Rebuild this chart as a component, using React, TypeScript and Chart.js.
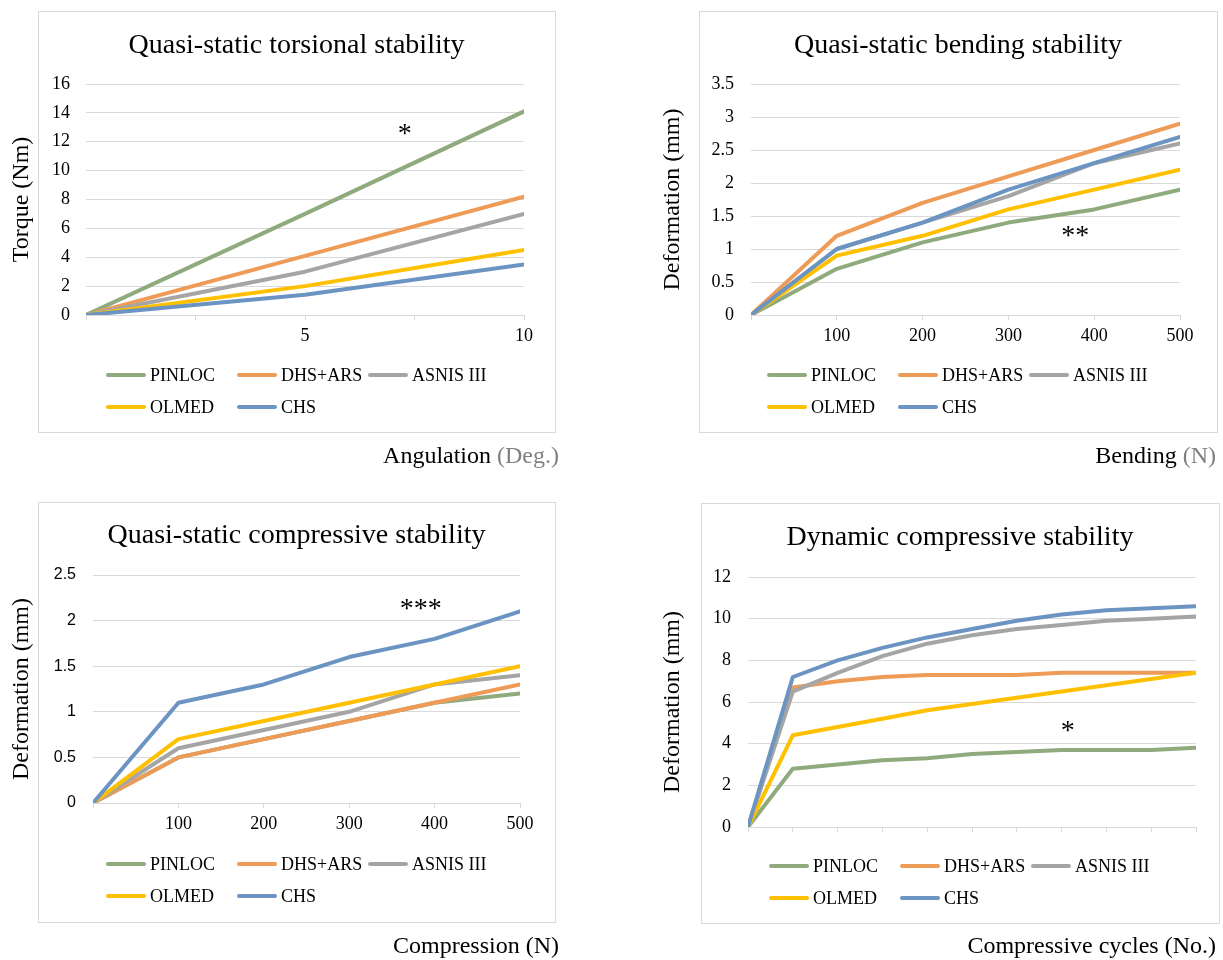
import React, { useEffect, useRef } from "react";
import { Chart, registerables } from "chart.js";

Chart.register(...registerables);

const SERIF = '"Liberation Serif", "Times New Roman", serif';
const SANS = '"Liberation Sans", Arial, sans-serif';

// ---------- shared series ----------
const seriesNames = ["PINLOC", "DHS+ARS", "ASNIS III", "OLMED", "CHS"];
const seriesColors = ["#8FAA7D", "#EE9B57", "#A5A5A5", "#FFC000", "#6C94C2"];

// ---------- Panel 1: Quasi-static torsional stability ----------
const torsionX = [0, 5, 10];
const torsionPINLOC = [0, 7.0, 14.1];
const torsionDHS = [0, 4.1, 8.2];
const torsionASNIS = [0, 3.0, 7.0];
const torsionOLMED = [0, 2.0, 4.5];
const torsionCHS = [0, 1.4, 3.5];
const torsionTicks = [0, 2.5, 5, 7.5, 10];
const torsionTickLabels = ["", "", "5", "", "10"];

// ---------- Panel 2: Quasi-static bending stability ----------
const bendingX = [0, 100, 200, 300, 400, 500];
const bendingPINLOC = [0, 0.7, 1.1, 1.4, 1.6, 1.9];
const bendingDHS = [0, 1.2, 1.7, 2.1, 2.5, 2.9];
const bendingASNIS = [0, 1.0, 1.4, 1.8, 2.3, 2.6];
const bendingOLMED = [0, 0.9, 1.2, 1.6, 1.9, 2.2];
const bendingCHS = [0, 1.0, 1.4, 1.9, 2.3, 2.7];
const bendingTicks = [0, 100, 200, 300, 400, 500];
const bendingTickLabels = ["", "100", "200", "300", "400", "500"];

// ---------- Panel 3: Quasi-static compressive stability ----------
const compX = [0, 100, 200, 300, 400, 500];
const compPINLOC = [0, 0.5, 0.7, 0.9, 1.1, 1.2];
const compDHS = [0, 0.5, 0.7, 0.9, 1.1, 1.3];
const compASNIS = [0, 0.6, 0.8, 1.0, 1.3, 1.4];
const compOLMED = [0, 0.7, 0.9, 1.1, 1.3, 1.5];
const compCHS = [0, 1.1, 1.3, 1.6, 1.8, 2.1];
const compTicks = [0, 100, 200, 300, 400, 500];
const compTickLabels = ["", "100", "200", "300", "400", "500"];

// ---------- Panel 4: Dynamic compressive stability ----------
const cycleX = [0, 1, 2, 3, 4, 5, 6, 7, 8, 9, 10];
const dynPINLOC = [0, 2.8, 3.0, 3.2, 3.3, 3.5, 3.6, 3.7, 3.7, 3.7, 3.8];
const dynDHS = [0, 6.7, 7.0, 7.2, 7.3, 7.3, 7.3, 7.4, 7.4, 7.4, 7.4];
const dynASNIS = [0, 6.5, 7.4, 8.2, 8.8, 9.2, 9.5, 9.7, 9.9, 10.0, 10.1];
const dynOLMED = [0, 4.4, 4.8, 5.2, 5.6, 5.9, 6.2, 6.5, 6.8, 7.1, 7.4];
const dynCHS = [0, 7.2, 8.0, 8.6, 9.1, 9.5, 9.9, 10.2, 10.4, 10.5, 10.6];
const cycleTicks = [0, 1, 2, 3, 4, 5, 6, 7, 8, 9, 10];
const cycleTickLabels = ["", "", "", "", "", "", "", "", "", "", ""];

type Spec = {
  canvas: { left: number; top: number; w: number; h: number };
  area: { l: number; t: number; r: number; b: number };
  box: [number, number, number, number];
  title: string;
  titleBaseline: number;
  yTitle: string;
  yTitlePad: number;
  yMax: number;
  yStep: number;
  yTickPad: number;
  yTickFont: string;
  yTickSize: number;
  xMax: number;
  xs: number[];
  series: number[][];
  ticks: number[];
  tickLabels: string[];
  xTitle: [string, string];
  xTitleRight: number;
  xTitleBaseline: number;
  legendX: number;
  legendRows: [number, number];
  star: string;
  starX: number;
  starY: number;
};

const specs: Spec[] = [
  {
    canvas: { left: 0, top: 0, w: 600, h: 480 },
    area: { l: 86, t: 84, r: 524, b: 315 },
    box: [38, 11, 555, 432],
    title: "Quasi-static torsional stability",
    titleBaseline: 53,
    yTitle: "Torque (Nm)",
    yTitlePad: 7,
    yMax: 16,
    yStep: 2,
    yTickPad: 16,
    yTickFont: SERIF,
    yTickSize: 18,
    xMax: 10,
    xs: torsionX,
    series: [torsionPINLOC, torsionDHS, torsionASNIS, torsionOLMED, torsionCHS],
    ticks: torsionTicks,
    tickLabels: torsionTickLabels,
    xTitle: ["Angulation ", "(Deg.)"],
    xTitleRight: 559,
    xTitleBaseline: 463,
    legendX: 106,
    legendRows: [375, 407],
    star: "*",
    starX: 7.28,
    starY: 12.8,
  },
  {
    canvas: { left: 600, top: 0, w: 623, h: 480 },
    area: { l: 151, t: 84, r: 580, b: 315 },
    box: [99, 11, 617, 432],
    title: "Quasi-static bending stability",
    titleBaseline: 53,
    yTitle: "Deformation (mm)",
    yTitlePad: 58,
    yMax: 3.5,
    yStep: 0.5,
    yTickPad: 17,
    yTickFont: SERIF,
    yTickSize: 18,
    xMax: 500,
    xs: bendingX,
    series: [bendingPINLOC, bendingDHS, bendingASNIS, bendingOLMED, bendingCHS],
    ticks: bendingTicks,
    tickLabels: bendingTickLabels,
    xTitle: ["Bending ", "(N)"],
    xTitleRight: 616,
    xTitleBaseline: 463,
    legendX: 167,
    legendRows: [375, 407],
    star: "**",
    starX: 378,
    starY: 1.26,
  },
  {
    canvas: { left: 0, top: 480, w: 600, h: 480 },
    area: { l: 93, t: 95, r: 520, b: 323 },
    box: [38, 22, 555, 442],
    title: "Quasi-static compressive stability",
    titleBaseline: 63,
    yTitle: "Deformation (mm)",
    yTitlePad: 7,
    yMax: 2.5,
    yStep: 0.5,
    yTickPad: 17,
    yTickFont: SANS,
    yTickSize: 16,
    xMax: 500,
    xs: compX,
    series: [compPINLOC, compDHS, compASNIS, compOLMED, compCHS],
    ticks: compTicks,
    tickLabels: compTickLabels,
    xTitle: ["Compression (N)", ""],
    xTitleRight: 559,
    xTitleBaseline: 473,
    legendX: 106,
    legendRows: [384, 416],
    star: "***",
    starX: 383.7,
    starY: 2.17,
  },
  {
    canvas: { left: 600, top: 480, w: 623, h: 480 },
    area: { l: 148, t: 97, r: 596, b: 347 },
    box: [101, 23, 619, 443],
    title: "Dynamic compressive stability",
    titleBaseline: 65,
    yTitle: "Deformation (mm)",
    yTitlePad: 58,
    yMax: 12,
    yStep: 2,
    yTickPad: 17,
    yTickFont: SERIF,
    yTickSize: 18,
    xMax: 10,
    xs: cycleX,
    series: [dynPINLOC, dynDHS, dynASNIS, dynOLMED, dynCHS],
    ticks: cycleTicks,
    tickLabels: cycleTickLabels,
    xTitle: ["Compressive cycles (No.)", ""],
    xTitleRight: 616,
    xTitleBaseline: 473,
    legendX: 169,
    legendRows: [386, 418],
    star: "*",
    starX: 7.14,
    starY: 4.79,
  },
];

function drawDecor(chart: any, s: Spec) {
  const ctx: CanvasRenderingContext2D = chart.ctx;
  ctx.save();
  // border box
  const [l, t, r, b] = s.box;
  ctx.strokeStyle = "#d9d9d9";
  ctx.lineWidth = 1;
  ctx.strokeRect(l + 0.5, t + 0.5, r - l, b - t);
  // chart title
  ctx.fillStyle = "#000";
  ctx.font = `28px ${SERIF}`;
  ctx.textAlign = "center";
  ctx.textBaseline = "alphabetic";
  ctx.fillText(s.title, (l + r) / 2, s.titleBaseline);
  // x axis title (right aligned, outside box)
  ctx.font = `24px ${SERIF}`;
  ctx.textAlign = "left";
  const w1 = ctx.measureText(s.xTitle[0]).width;
  const w2 = ctx.measureText(s.xTitle[1]).width;
  const x0 = s.xTitleRight - w1 - w2;
  ctx.fillStyle = "#000";
  ctx.fillText(s.xTitle[0], x0, s.xTitleBaseline);
  ctx.fillStyle = "#808080";
  ctx.fillText(s.xTitle[1], x0 + w1, s.xTitleBaseline);
  // legend (3 columns grid)
  ctx.font = `18px ${SERIF}`;
  ctx.textBaseline = "middle";
  chart.data.datasets.forEach((ds: any, i: number) => {
    const col = i % 3;
    const row = Math.floor(i / 3);
    const x = s.legendX + col * 131;
    const y = s.legendRows[row];
    ctx.strokeStyle = ds.borderColor;
    ctx.lineWidth = 4;
    ctx.lineCap = "round";
    ctx.beginPath();
    ctx.moveTo(x + 2, y);
    ctx.lineTo(x + 38, y);
    ctx.stroke();
    ctx.fillStyle = "#000";
    ctx.fillText(ds.label, x + 44, y + 1);
  });
  // significance marker
  const px = chart.scales.x.getPixelForValue(s.starX);
  const py = chart.scales.y.getPixelForValue(s.starY);
  ctx.font = `28px ${SERIF}`;
  ctx.textAlign = "center";
  ctx.textBaseline = "middle";
  ctx.fillStyle = "#000";
  ctx.fillText(s.star, px, py + 4.5);
  ctx.restore();
}

function Panel({ s, id }: { s: Spec; id: number }) {
  const ref = useRef<HTMLCanvasElement | null>(null);
  useEffect(() => {
    if (!ref.current) return;
    const datasets = s.series.map((vals, i) => ({
      label: seriesNames[i],
      data: vals.map((v, j) => ({ x: s.xs[j], y: v })),
      borderColor: seriesColors[i],
      backgroundColor: seriesColors[i],
      borderWidth: 4,
      pointRadius: 0,
      pointHoverRadius: 0,
      tension: 0,
      fill: false,
      borderCapStyle: "round",
      borderJoinStyle: "round",
      order: 10 - i,
    }));
    const plugin = {
      id: "panelDecor" + id,
      afterDraw(chart: any) {
        drawDecor(chart, s);
      },
    };
    const chart = new Chart(ref.current, {
      type: "line",
      data: { datasets } as any,
      plugins: [plugin],
      options: {
        responsive: false,
        maintainAspectRatio: false,
        animation: false,
        events: [],
        layout: {
          padding: {
            left: 0,
            top: s.area.t,
            right: s.canvas.w - s.area.r,
            bottom: s.canvas.h - s.area.b - 40,
          },
        },
        plugins: {
          legend: { display: false },
          title: { display: false },
          tooltip: { enabled: false },
        },
        scales: {
          x: {
            type: "linear",
            min: 0,
            max: s.xMax,
            afterBuildTicks: (scale: any) => {
              scale.ticks = s.ticks.map((v) => ({ value: v }));
            },
            afterFit: (scale: any) => {
              scale.height = 40;
            },
            ticks: {
              autoSkip: false,
              maxRotation: 0,
              minRotation: 0,
              padding: 5,
              color: "#000",
              font: { family: SERIF, size: 18 },
              callback: (_v: any, idx: number) => s.tickLabels[idx] ?? "",
            },
            grid: {
              drawOnChartArea: false,
              drawTicks: true,
              tickLength: 5,
              color: "#d9d9d9",
              lineWidth: 1,
            },
            border: { display: true, color: "#d9d9d9", width: 1 },
          },
          y: {
            type: "linear",
            min: 0,
            max: s.yMax,
            afterFit: (scale: any) => {
              scale.width = s.area.l;
            },
            ticks: {
              stepSize: s.yStep,
              padding: s.yTickPad,
              color: "#000",
              font: { family: s.yTickFont, size: s.yTickSize },
              callback: (v: any) => String(Math.round(Number(v) * 100) / 100),
            },
            grid: { color: "#d9d9d9", lineWidth: 1, drawTicks: false },
            border: { display: false },
            title: {
              display: true,
              text: s.yTitle,
              color: "#000",
              font: { family: SERIF, size: 24 },
              padding: { top: s.yTitlePad, bottom: 0 },
            },
          },
        },
      } as any,
    });
    return () => chart.destroy();
  }, [s, id]);
  return (
    <canvas
      ref={ref}
      width={s.canvas.w}
      height={s.canvas.h}
      style={{
        position: "absolute",
        left: s.canvas.left,
        top: s.canvas.top,
        width: s.canvas.w,
        height: s.canvas.h,
      }}
    />
  );
}

export default function App() {
  return (
    <div
      style={{
        position: "absolute",
        left: 0,
        top: 0,
        width: 1223,
        height: 960,
        background: "#fff",
      }}
    >
      {specs.map((s, i) => (
        <Panel key={i} s={s} id={i} />
      ))}
    </div>
  );
}
